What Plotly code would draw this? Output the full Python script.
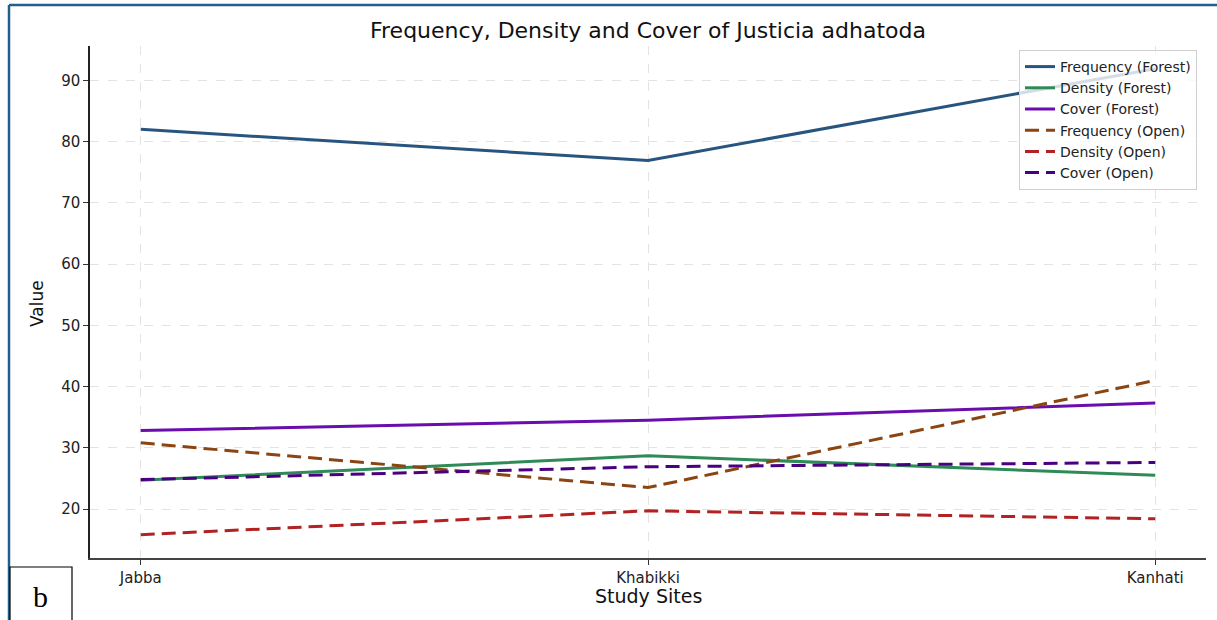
import plotly.graph_objects as go

# Study sites and measured values
sites = ["Jabba", "Khabikki", "Kanhati"]
frequency_forest = [82.0, 76.9, 91.9]
density_forest = [24.7, 28.7, 25.5]
cover_forest = [32.8, 34.5, 37.3]
frequency_open = [30.8, 23.5, 41.0]
density_open = [15.8, 19.7, 18.4]
cover_open = [24.8, 26.9, 27.6]

series = [
    ("Frequency (Forest)", frequency_forest, "#28557f", "solid"),
    ("Density (Forest)", density_forest, "#2e8b57", "solid"),
    ("Cover (Forest)", cover_forest, "#6a0dad", "solid"),
    ("Frequency (Open)", frequency_open, "#8b4513", "14px,7px"),
    ("Density (Open)", density_open, "#b22222", "14px,7px"),
    ("Cover (Open)", cover_open, "#4b0082", "14px,7px"),
]

FONT = "DejaVu Sans, Verdana, sans-serif"
W, H = 1217, 620
L, R, T, B = 90, 11, 46, 62
PW, PH = W - L - R, H - T - B


def px(x):
    return (x - L) / PW


def py(y):
    return (H - B - y) / PH


fig = go.Figure()
for name, vals, color, dash in series:
    fig.add_trace(go.Scatter(
        x=list(range(len(sites))), y=vals, name=name, mode="lines",
        line=dict(color=color, width=3, dash=dash),
    ))

fig.update_layout(
    width=W, height=H,
    margin=dict(l=L, r=R, t=T, b=B),
    paper_bgcolor="white", plot_bgcolor="white",
    font=dict(family=FONT, size=15, color="#222"),
    title=dict(text="Frequency, Density and Cover of Justicia adhatoda",
               x=px(648), xref="paper", xanchor="center",
               y=1 - 30 / H, yref="container", yanchor="middle",
               font=dict(size=22, color="#111", family=FONT)),
    showlegend=True,
    legend=dict(x=1 - (11 - 2) / PW, xanchor="right", y=py(50), yanchor="top",
                bgcolor="rgba(255,255,255,0.8)", bordercolor="#d0d0d0", borderwidth=1,
                font=dict(size=14, color="#222", family=FONT),
                itemwidth=30, tracegroupgap=0),
    xaxis=dict(
        range=[-0.1, 2.1], tickmode="array", tickvals=list(range(len(sites))),
        ticktext=sites, showgrid=True, gridcolor="#e3e3e3", griddash="dash",
        gridwidth=1, zeroline=False, showline=True, linecolor="#444", linewidth=1.5,
        ticks="outside", ticklen=5, tickcolor="#333", tickfont=dict(size=15),
    ),
    yaxis=dict(
        range=[12.0, 95.6], tickmode="array", tickvals=[20, 30, 40, 50, 60, 70, 80, 90],
        showgrid=True, gridcolor="#e3e3e3", griddash="dash", gridwidth=1,
        zeroline=False, showline=True, linecolor="#222", linewidth=1.5,
        ticks="outside", ticklen=5, tickcolor="#333", tickfont=dict(size=15),
    ),
)

# Axis titles
fig.add_annotation(text="Study Sites", x=px(648), y=py(596), xref="paper", yref="paper",
                   showarrow=False, font=dict(size=19, color="#111", family=FONT),
                   xanchor="center", yanchor="middle")
fig.add_annotation(text="Value", x=px(37), y=py(304), xref="paper", yref="paper",
                   showarrow=False, textangle=-90, font=dict(size=17, color="#111", family=FONT),
                   xanchor="center", yanchor="middle")

# Outer frame (top and left edges) and panel letter box
frame_color = "#1f5f8c"
fig.add_shape(type="line", xref="paper", yref="paper",
              x0=px(9), x1=px(W + 2), y0=py(5), y1=py(5),
              line=dict(color=frame_color, width=2.5))
fig.add_shape(type="line", xref="paper", yref="paper",
              x0=px(9), x1=px(9), y0=py(5), y1=py(H + 2),
              line=dict(color=frame_color, width=2.5))
fig.add_shape(type="rect", xref="paper", yref="paper",
              x0=px(10), x1=px(72), y0=py(567), y1=py(H + 2),
              line=dict(color="black", width=1.2), fillcolor="white")
fig.add_annotation(text="b", x=px(40), y=py(596), xref="paper", yref="paper",
                   showarrow=False, font=dict(size=30, color="black",
                                              family="Liberation Serif, Times New Roman, serif"),
                   xanchor="center", yanchor="middle")

fig.write_html("out.html")
